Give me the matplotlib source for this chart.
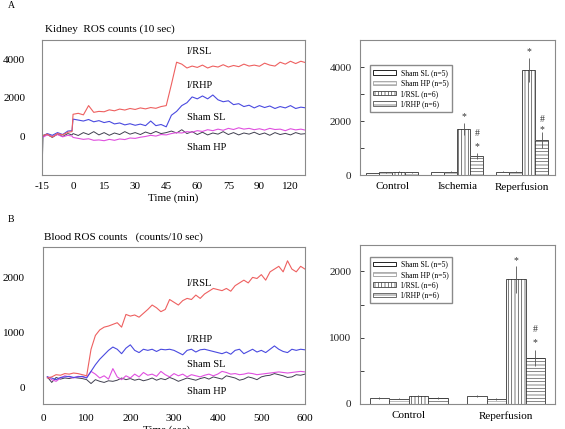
import numpy as np
import matplotlib
matplotlib.use("Agg")
import matplotlib.pyplot as plt

plt.rcParams["font.family"] = ["Liberation Serif", "DejaVu Serif"]
plt.rcParams["font.size"] = 8
plt.rcParams["hatch.linewidth"] = 0.5

# ---- panel A, kidney traces (min) ----
t_min = [-15, -14.5, -12.5, -10, -7.5, -5, -2.5, -0.5, 0, 2.5, 5, 7.5, 10, 12.5, 15, 17.5,
         20, 22.5, 25, 27.5, 30, 32.5, 35, 37.5, 40, 42.5, 45, 47.5, 50, 52.5, 55, 57.5,
         60, 62.5, 65, 67.5, 70, 72.5, 75, 77.5, 80, 82.5, 85, 87.5, 90, 92.5, 95, 97.5,
         100, 102.5, 105, 107.5, 110, 112.5]
k_irsl = [50, 40, 120, -30, 150, 80, 220, 250, 1150, 1200, 1120, 1600, 1250, 1300, 1280, 1380,
          1330, 1420, 1370, 1450, 1400, 1480, 1430, 1500, 1460, 1550, 1600, 2700, 3850, 3750, 3550, 3650,
          3580, 3700, 3550, 3650, 3600, 3720, 3600, 3680, 3620, 3750, 3650, 3700, 3640, 3800, 3700, 3650,
          3850, 3750, 3900, 3780, 3900, 3820]
k_irhp = [0, 20, 150, 60, 200, 100, 280, 300, 900, 850, 800, 880, 760, 820, 720, 780,
          650, 700, 600, 660, 580, 640, 560, 800, 560, 620, 500, 1100, 1300, 1600, 1750, 2050,
          1950, 2100, 1950, 2150, 1900, 1800, 1850, 1650, 1700, 1550, 1620, 1480, 1600, 1500, 1580, 1450,
          1550, 1480, 1600, 1450, 1520, 1480]
k_shamsl = [-50, -40, 80, 0, 100, -20, 60, 20, -50, -100, -150, -120, -200, -180, -220, -150,
            -200, -130, -160, -80, -100, -40, 0, 60, 20, 100, 80, 150, 200, 180, 250, 220,
            300, 260, 350, 300, 380, 320, 420, 360, 450, 380, 420, 350, 400, 330, 420, 360,
            380, 300, 400, 340, 380, 320]
k_shamhp = [-2000, 60, 100, -50, 120, 0, 150, 80, 150, 50, 200, 100, 250, 80, 200, 60,
            180, 100, 250, 120, 200, 100, 230, 140, 260, 150, 200, 280, 180, 350, 150, 250,
            100, 220, 80, 180, 120, 250, 100, 200, 80, 180, 120, 220, 100, 180, 60, 200,
            100, 160, 80, 200, 120, 150]
k_ticks = [-15, 0, 15, 30, 45, 60, 75, 90, 105]
k_ticklabels = ["-15", "0", "15", "30", "45", "60", "75", "90", "120"]

# ---- panel B, blood traces (sec) ----
t_sec = [10, 20, 30, 40, 50, 60, 70, 80, 90, 100, 110, 120, 130, 140, 150, 160, 170, 180, 190, 200,
         210, 220, 230, 240, 250, 260, 270, 280, 290, 300, 310, 320, 330, 340, 350, 360, 370, 380, 390, 400,
         410, 420, 430, 440, 450, 460, 470, 480, 490, 500, 510, 520, 530, 540, 550, 560, 570, 580, 590, 600]
b_irsl = [180, 200, 240, 230, 260, 250, 270, 260, 240, 220, 700, 950, 1050, 1100, 1120, 1150, 1180, 1100, 1330, 1300,
          1320, 1280, 1350, 1420, 1500, 1450, 1380, 1420, 1600, 1550, 1500, 1580, 1620, 1600, 1680, 1620, 1700, 1750, 1800, 1780,
          1760, 1800, 1750, 1850, 1900, 1950, 1900, 2000, 1980, 2050, 1950, 2100, 2150, 2200, 2100, 2300, 2150, 2100, 2200, 2150]
b_irhp = [200, 180, 150, 190, 200, 210, 190, 200, 210, 180, 300, 420, 520, 600, 680, 740, 700, 620, 720, 780,
          680, 640, 700, 680, 700, 660, 700, 690, 700, 680, 640, 600, 680, 700, 650, 690, 700, 680, 660, 640,
          620, 650, 610, 680, 700, 620, 660, 700, 650, 680, 640, 700, 760, 700, 660, 640, 700, 680, 700, 690]
b_shamsl = [200, 150, 120, 180, 220, 200, 180, 210, 200, 190, 300, 250, 180, 220, 160, 350, 200, 150, 220, 180,
            250, 200, 280, 230, 250, 210, 300, 240, 200, 260, 220, 250, 200, 240, 220, 200, 230, 250, 220, 250,
            300, 280, 250, 260, 240, 250, 270, 260, 240, 250, 260, 270, 280, 290, 280, 270, 280, 290, 300, 290]
b_shamhp = [200, 100, 190, 160, 180, 170, 190, 180, 170, 150, 80, 150, 120, 100, 130, 120, 140, 180, 150, 170,
            140, 160, 130, 150, 180, 140, 170, 150, 190, 160, 120, 150, 180, 160, 140, 170, 190, 160, 200, 180,
            160, 220, 200, 180, 140, 160, 200, 180, 150, 200, 220, 230, 260, 240, 220, 190, 200, 240, 230, 250]

# ---- bar charts ----
groups_a = ["Control", "Ischemia", "Reperfusion"]
a_shamsl = [80, 120, 130]
a_shamhp = [100, 130, 130]
a_irsl = [130, 1700, 3900]
a_irhp = [100, 700, 1300]
a_irsl_err = [20, 230, 450]
a_irhp_err = [20, 100, 300]

groups_b = ["Control", "Reperfusion"]
b_bar_shamsl = [90, 120]
b_bar_shamhp = [80, 75]
b_bar_irsl = [120, 1880]
b_bar_irhp = [90, 700]
b_bar_irsl_err = [15, 200]
b_bar_irhp_err = [15, 120]

series_names = ["Sham SL (n=5)", "Sham HP (n=5)", "I/RSL (n=6)", "I/RHP (n=6)"]

RED = "#ee6060"
BLUE = "#4a4ae0"
MAG = "#e050e0"
DARK = "#404050"
SPINE = "#8a8a8a"


def style_trace_axes(ax):
    for s in ax.spines.values():
        s.set_color(SPINE)
        s.set_linewidth(0.8)
    ax.tick_params(length=0)


def bars(ax, groups, vals, errs, ylim, yticks, minor):
    x = np.arange(len(groups))
    w = 0.2
    hatches = [None, "------", "|||||", "-----"]
    hcols = ["k", "#a0a0a0", "#444444", "#555555"]
    handles = []
    for i, (v, e) in enumerate(zip(vals, errs)):
        pos = x + (i - 1.5) * w
        ax.bar(pos, v, w, color="white", edgecolor=hcols[i], hatch=hatches[i], linewidth=0)
        ax.bar(pos, v, w, fill=False, edgecolor="#333333", linewidth=0.6,
               yerr=e, error_kw=dict(elinewidth=0.6, ecolor="#555555", capsize=0))
        h = plt.Rectangle((0, 0), 1, 1, facecolor="white", edgecolor=hcols[i],
                          hatch=hatches[i], linewidth=0.6)
        handles.append(h)
    ax.set_xticks(x)
    ax.set_xticklabels(groups)
    ax.set_xlim(-0.5, len(groups) - 0.5)
    ax.set_ylim(*ylim)
    ax.set_yticks(yticks)
    ax.set_yticks(minor, minor=True)
    ax.tick_params(axis="x", length=0, pad=5)
    ax.tick_params(axis="y", which="both", direction="in", length=3, width=0.6, pad=6, colors="#222222")
    for s in ax.spines.values():
        s.set_color(SPINE)
        s.set_linewidth(0.8)
    return handles


fig = plt.figure(figsize=(5.65, 4.29), dpi=100)

# Panel A traces
ax1 = fig.add_axes([0.0743, 0.592, 0.4655, 0.3147])
ax1.plot(t_min, k_shamhp, color=DARK, lw=0.7)
ax1.plot(t_min, k_shamsl, color=MAG, lw=0.8)
ax1.plot(t_min, k_irhp, color=BLUE, lw=0.8)
ax1.plot(t_min, k_irsl, color=RED, lw=0.8)
ax1.set_xlim(-15, 112)
ax1.set_ylim(-2000, 5000)
ax1.set_yticks([0, 2000, 4000])
ax1.set_xticks(k_ticks)
ax1.set_xticklabels(k_ticklabels)
style_trace_axes(ax1)
ax1.tick_params(axis="y", pad=12)
ax1.tick_params(axis="x", pad=5)
ax1.set_xlabel("Time (min)", labelpad=2)
for txt, yv in [("I/RSL", 4400), ("I/RHP", 2620), ("Sham SL", 980), ("Sham HP", -560)]:
    ax1.text(55, yv, txt, ha="left", va="center", fontsize=7.5)

# Panel A bars
ax2 = fig.add_axes([0.637, 0.592, 0.345, 0.3147])
h = bars(ax2, groups_a, [a_shamsl, a_shamhp, a_irsl, a_irhp],
         [[10, 10, 10], [10, 10, 10], a_irsl_err, a_irhp_err],
         (0, 5000), [0, 2000, 4000], [1000, 3000])
ax2.legend(h, series_names, loc="upper left", bbox_to_anchor=(0.03, 0.84), fontsize=5.5,
           handlelength=3.0, handleheight=0.5, handletextpad=0.6, labelspacing=0.3,
           borderpad=0.5, fancybox=False, edgecolor=SPINE, framealpha=1)
for txt, xv, yv in [("*", 1.1, 2150), ("#", 1.3, 1520), ("*", 1.3, 1040),
                    ("*", 2.1, 4560), ("#", 2.3, 2040), ("*", 2.3, 1700)]:
    ax2.text(xv, yv, txt, ha="center", va="center", fontsize=7, color="#333333")

# Panel B traces
ax3 = fig.add_axes([0.0761, 0.0583, 0.4637, 0.366])
ax3.plot(t_sec, b_shamhp, color=DARK, lw=0.7)
ax3.plot(t_sec, b_shamsl, color=MAG, lw=0.8)
ax3.plot(t_sec, b_irhp, color=BLUE, lw=0.8)
ax3.plot(t_sec, b_irsl, color=RED, lw=0.8)
ax3.set_xlim(0, 600)
ax3.set_ylim(-290, 2550)
ax3.set_yticks([0, 1000, 2000])
ax3.set_xticks([0, 100, 200, 300, 400, 500, 600])
style_trace_axes(ax3)
ax3.tick_params(axis="y", pad=13)
ax3.tick_params(axis="x", pad=7)
for txt, yv in [("I/RSL", 1890), ("I/RHP", 875), ("Sham SL", 430), ("Sham HP", -70)]:
    ax3.text(330, yv, txt, ha="left", va="center", fontsize=7.5)

# Panel B bars
ax4 = fig.add_axes([0.637, 0.0583, 0.345, 0.3706])
h = bars(ax4, groups_b, [b_bar_shamsl, b_bar_shamhp, b_bar_irsl, b_bar_irhp],
         [[10, 10], [10, 10], b_bar_irsl_err, b_bar_irhp_err],
         (0, 2400), [0, 1000, 2000], [500, 1500])
ax4.legend(h, series_names, loc="upper left", bbox_to_anchor=(0.03, 0.95), fontsize=5.5,
           handlelength=3.0, handleheight=0.5, handletextpad=0.6, labelspacing=0.3,
           borderpad=0.5, fancybox=False, edgecolor=SPINE, framealpha=1)
for txt, xv, yv in [("*", 1.1, 2170), ("#", 1.3, 1130), ("*", 1.3, 920)]:
    ax4.text(xv, yv, txt, ha="center", va="center", fontsize=7, color="#333333")

# Figure texts
fig.text(8 / 565, 1 - 6 / 429, "A", fontsize=7, va="center")
fig.text(45 / 565, 1 - 29 / 429, "Kidney  ROS counts (10 sec)", fontsize=8, va="center")
fig.text(8 / 565, 1 - 220 / 429, "B", fontsize=7, va="center")
fig.text(44 / 565, 1 - 237 / 429, "Blood ROS counts   (counts/10 sec)", fontsize=8, va="center")
fig.text(167 / 565, 1 - 425 / 429, "Time (sec)", fontsize=8, ha="center", va="top")

fig.savefig("out.png", dpi=100)
